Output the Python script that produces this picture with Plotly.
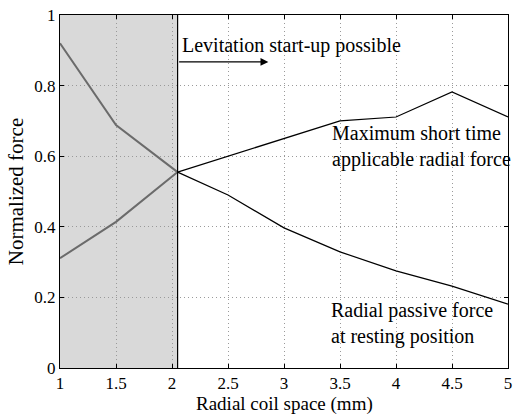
import plotly.graph_objects as go

# data
x_gray = [1.0, 1.5, 2.05]
passive_gray = [0.92, 0.688, 0.555]
max_gray = [0.311, 0.414, 0.555]

x_black = [2.05, 2.5, 3.0, 3.5, 4.0, 4.5, 5.0]
passive_black = [0.555, 0.49, 0.397, 0.329, 0.275, 0.232, 0.181]
max_black = [0.555, 0.60, 0.651, 0.70, 0.711, 0.782, 0.711]

x_ticks = [1, 1.5, 2, 2.5, 3, 3.5, 4, 4.5, 5]
x_ticktext = ["1", "1.5", "2", "2.5", "3", "3.5", "4", "4.5", "5"]
y_ticks = [0, 0.2, 0.4, 0.6, 0.8, 1]
y_ticktext = ["0", "0.2", "0.4", "0.6", "0.8", "1"]

shade_end = 2.05
arrow_y = 0.867
arrow_end = 2.86

FONT = "Liberation Serif"

fig = go.Figure()

fig.add_shape(type="rect", x0=1, x1=shade_end, y0=0, y1=1, xref="x", yref="y",
              fillcolor="#d9d9d9", line=dict(width=0), layer="below")

for xs, ys in [(x_gray, passive_gray), (x_gray, max_gray)]:
    fig.add_trace(go.Scatter(x=xs, y=ys, mode="lines",
                             line=dict(color="#6b6b6b", width=2), showlegend=False))
for xs, ys in [(x_black, passive_black), (x_black, max_black)]:
    fig.add_trace(go.Scatter(x=xs, y=ys, mode="lines",
                             line=dict(color="black", width=1.2), showlegend=False))

fig.add_shape(type="line", x0=shade_end, x1=shade_end, y0=0, y1=1, xref="x", yref="y",
              line=dict(color="black", width=1.2))

fig.add_annotation(x=arrow_end, y=arrow_y, ax=shade_end, ay=arrow_y,
                   xref="x", yref="y", axref="x", ayref="y",
                   showarrow=True, arrowhead=2, arrowsize=1.3, arrowwidth=1.2,
                   arrowcolor="black", text="")
fig.add_annotation(x=shade_end + 0.02, y=0.915, xref="x", yref="y", xanchor="left",
                   yanchor="middle", showarrow=False, text="Levitation start-up possible",
                   font=dict(family=FONT, size=20, color="black"))
fig.add_annotation(x=3.41, y=0.627, xref="x", yref="y", xanchor="left", yanchor="middle",
                   showarrow=False, align="left",
                   text="Maximum short time<br>applicable radial force",
                   font=dict(family=FONT, size=20, color="black"))
fig.add_annotation(x=3.40, y=0.127, xref="x", yref="y", xanchor="left", yanchor="middle",
                   showarrow=False, align="left",
                   text="Radial passive force<br>at resting position",
                   font=dict(family=FONT, size=20, color="black"))

# x-axis title placed as annotation below tick labels
fig.add_annotation(x=0.5, y=-0.136, xref="paper", yref="paper", xanchor="center",
                   yanchor="bottom", showarrow=False, borderpad=0,
                   text="Radial coil space (mm)",
                   font=dict(family=FONT, size=19, color="black"))

axis_common = dict(showline=True, linecolor="black", linewidth=1, mirror="allticks",
                   ticks="inside", ticklen=4, tickcolor="black", automargin=False,
                   showgrid=True, gridcolor="#9a9a9a", griddash="1px,3px", gridwidth=1,
                   zeroline=False, tickfont=dict(family=FONT, size=17, color="black"))

fig.update_xaxes(range=[1, 5], tickvals=x_ticks, ticktext=x_ticktext, **axis_common)
fig.update_yaxes(range=[0, 1], tickvals=y_ticks, ticktext=y_ticktext,
                 title=dict(text="Normalized force", standoff=4,
                            font=dict(family=FONT, size=21, color="black")),
                 **axis_common)

fig.update_layout(width=514, height=416, margin=dict(l=60, r=6, t=15, b=48),
                  font=dict(family=FONT, size=17, color="black"),
                  plot_bgcolor="white", paper_bgcolor="white", showlegend=False)

fig.write_html("out.html")
